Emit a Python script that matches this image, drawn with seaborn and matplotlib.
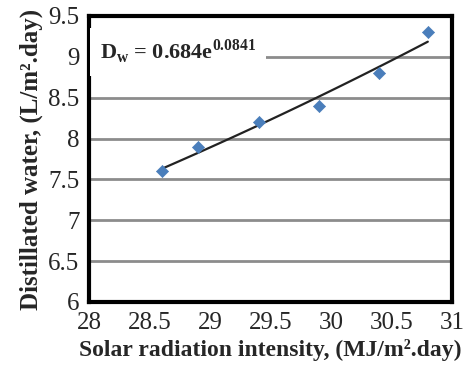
import numpy as np
import pandas as pd
import seaborn as sns
import matplotlib
matplotlib.use("Agg")
import matplotlib.pyplot as plt

radiation = [28.6, 28.9, 29.4, 29.9, 30.4, 30.8]
water = [7.6, 7.9, 8.2, 8.4, 8.8, 9.3]
x_ticks = [28, 28.5, 29, 29.5, 30, 30.5, 31]
x_tick_labels = ["28", "28.5", "29", "29.5", "30", "30.5", "31"]
y_ticks = [6, 6.5, 7, 7.5, 8, 8.5, 9, 9.5]
y_tick_labels = ["6", "6.5", "7", "7.5", "8", "8.5", "9", "9.5"]
equation = "D$_\\mathregular{w}$ = 0.684e$^\\mathregular{0.0841}$"

df = pd.DataFrame({"I": radiation, "D": water})

sns.set_theme(style="white")
plt.rcParams["font.family"] = ["Liberation Serif", "DejaVu Serif"]
plt.rcParams["mathtext.fontset"] = "custom"
plt.rcParams["mathtext.rm"] = "Liberation Serif:bold"

fig, ax = plt.subplots(figsize=(4.65, 3.71), dpi=100)
fig.subplots_adjust(left=0.192, right=0.972, top=0.957, bottom=0.186)

for yv in y_ticks[1:-1]:
    ax.axhline(yv, color="#8c8c8c", lw=2.0, zorder=1)

# exponential trendline
b, lna = np.polyfit(df["I"], np.log(df["D"]), 1)
xs = np.linspace(min(radiation), max(radiation), 50)
trend = pd.DataFrame({"I": xs, "D": np.exp(lna) * np.exp(b * xs)})
sns.lineplot(data=trend, x="I", y="D", ax=ax, color="#222222", lw=1.6, zorder=3)

sns.scatterplot(data=df, x="I", y="D", ax=ax, marker="D", s=38,
                color="#4a7ebb", edgecolor="#4a7ebb", zorder=4)

ax.text(0.03, 0.875, equation, transform=ax.transAxes, fontsize=16,
        fontweight="bold", va="center", ha="left", zorder=5,
        bbox=dict(facecolor="white", edgecolor="none",
                  boxstyle="square,pad=0.45"))

ax.set_xlim(28, 31)
ax.set_ylim(6, 9.5)
ax.set_xticks(x_ticks)
ax.set_xticklabels(x_tick_labels)
ax.set_yticks(y_ticks)
ax.set_yticklabels(y_tick_labels)
ax.tick_params(axis="both", labelsize=18, length=3, width=1, color="#888888",
               direction="out", pad=4)

for sp in ax.spines.values():
    sp.set_visible(True)
    sp.set_color("black")
    sp.set_linewidth(3)

ax.set_xlabel("Solar radiation intensity, (MJ/m².day)", fontsize=17,
              fontweight="bold", labelpad=4)
ax.set_ylabel("Distillated water, (L/m².day)", fontsize=18,
              fontweight="bold", labelpad=4)

fig.savefig("out.png", dpi=100)
